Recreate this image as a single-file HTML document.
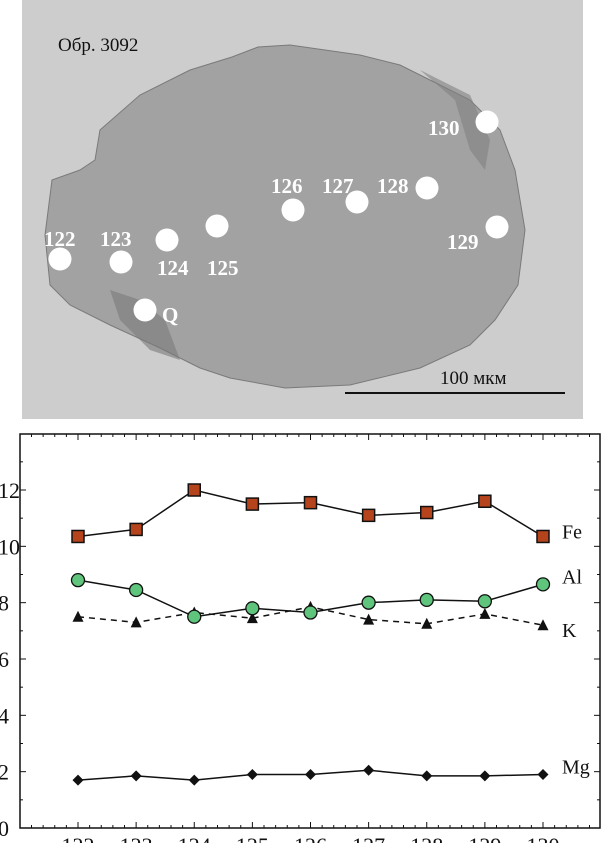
<!DOCTYPE html>
<html><head><meta charset="utf-8"><style>
body{margin:0;background:#fff;width:610px;height:843px;overflow:hidden;font-family:"Liberation Serif",serif}
</style></head><body>
<svg width="610" height="843" xmlns="http://www.w3.org/2000/svg">
<g>
<rect x="22" y="0" width="561" height="419" fill="#cdcdcd"/>
<path d="M232,57 L258,47 L290,45 L360,55 L400,65 L430,80 L470,100 L500,130 L515,170 L525,230 L518,285 L495,320 L470,345 L420,368 L350,385 L285,388 L230,378 L200,368 L160,348 L110,325 L70,305 L50,285 L45,235 L52,180 L80,170 L95,160 L100,130 L140,95 L190,70 Z" fill="#a2a2a2" stroke="#7a7a7a" stroke-width="1"/>
<path d="M420,70 L470,95 L490,140 L485,170 L470,150 L455,100 Z" fill="#808080" opacity="0.6"/>
<path d="M110,290 L140,300 L165,320 L180,360 L150,350 L120,320 Z" fill="#7a7a7a" opacity="0.6"/>
<text x="58" y="51" font-size="19" fill="#111">Обр. 3092</text>
<line x1="345" y1="393" x2="565" y2="393" stroke="#111" stroke-width="2"/>
<text x="440" y="384" font-size="19" fill="#111">100 мкм</text>
<g fill="#fff" font-weight="bold" font-size="21">
<circle cx="60" cy="259" r="11.5"/><text x="44" y="246">122</text>
<circle cx="121" cy="262" r="11.5"/><text x="100" y="246">123</text>
<circle cx="167" cy="240" r="11.5"/><text x="157" y="275">124</text>
<circle cx="217" cy="226" r="11.5"/><text x="207" y="275">125</text>
<circle cx="293" cy="210" r="11.5"/><text x="271" y="193">126</text>
<circle cx="357" cy="202" r="11.5"/><text x="322" y="193">127</text>
<circle cx="427" cy="188" r="11.5"/><text x="377" y="193">128</text>
<circle cx="497" cy="227" r="11.5"/><text x="447" y="249">129</text>
<circle cx="487" cy="122" r="11.5"/><text x="428" y="135">130</text>
<circle cx="145" cy="310" r="11.5"/><text x="162" y="322">Q</text>
</g>
</g>
<g id="chart"></g>
</svg>
<script>
const categories=["122","123","124","125","126","127","128","129","130"];
const fe=[10.35,10.6,12.0,11.5,11.55,11.1,11.2,11.6,10.35];
const al=[8.8,8.45,7.5,7.8,7.65,8.0,8.1,8.05,8.65];
const k=[7.5,7.3,7.65,7.45,7.85,7.4,7.25,7.6,7.2];
const mg=[1.7,1.85,1.7,1.9,1.9,2.05,1.85,1.85,1.9];
const yTicks=[0,2,4,6,8,10,12];
const NS="http://www.w3.org/2000/svg";
const g=document.getElementById('chart');
const L=20,R=600,T=434,B=828;
const xs=i=>78+i*(543-78)/8;
const ys=v=>B-v*(B-490)/12;
function mk(t,a){const e=document.createElementNS(NS,t);for(const n in a)e.setAttribute(n,a[n]);g.appendChild(e);return e;}
let f=mk('rect',{x:L,y:T,width:R-L,height:B-T,fill:'none',stroke:'#111','stroke-width':1.5});


for(let v=0;v<=14;v++){const y=ys(v);if(y<T)continue;const len=v%2==0?6:3;
mk('line',{x1:L,y1:y,x2:L+len,y2:y,stroke:'#111'});mk('line',{x1:R,y1:y,x2:R-len,y2:y,stroke:'#111'});}
for(let i=-1;i<=9;i++){const x0=xs(i);for(let j=0;j<5;j++){const x=x0+j*(xs(1)-xs(0))/5;if(x<=L||x>=R)continue;const len=j==0?6:3;
mk('line',{x1:x,y1:B,x2:x,y2:B-len,stroke:'#111'});mk('line',{x1:x,y1:T,x2:x,y2:T+len,stroke:'#111'});}}
yTicks.forEach(v=>{const t=mk('text',{x:-2,y:ys(v)+8,'font-size':22,fill:'#111'});t.textContent=v;

});
categories.forEach((c,i)=>{const t=mk('text',{x:xs(i),y:853,'font-size':22,fill:'#111','text-anchor':'middle'});t.textContent=c;

});
function series(vals,name,dash,marker){const p=vals.map((v,i)=>xs(i)+','+ys(v)).join(' ');
const l=mk('polyline',{points:p,fill:'none',stroke:'#111','stroke-width':1.5,'stroke-dasharray':dash||'none'});


vals.forEach((v,i)=>{const x=xs(i),y=ys(v);let m;
if(marker=='sq')m=mk('rect',{x:x-6,y:y-6,width:12,height:12,fill:'#b5441c',stroke:'#111','stroke-width':1.5});
else if(marker=='ci')m=mk('circle',{cx:x,cy:y,r:6.5,fill:'#5fc47c',stroke:'#111','stroke-width':1.3});
else if(marker=='tr')m=mk('polygon',{points:`${x},${y-6} ${x-5.5},${y+5} ${x+5.5},${y+5}`,fill:'#111'});
else m=mk('polygon',{points:`${x},${y-5.5} ${x+5.5},${y} ${x},${y+5.5} ${x-5.5},${y}`,fill:'#111'});

});}
series(mg,'mg',null,'di');
series(k,'k','6,5','tr');
series(al,'al',null,'ci');
series(fe,'fe',null,'sq');
[['Fe',10.35,'fe'],['Al',8.65,'al'],['K',7.2,'k'],['Mg',1.9,'mg']].forEach(a=>{
const t=mk('text',{x:562,y:ys(a[1])+(a[0]=='K'?12:a[0]=='Fe'?2:-1),'font-size':20,fill:'#111'});t.textContent=a[0];

});
</script>
</body></html>
